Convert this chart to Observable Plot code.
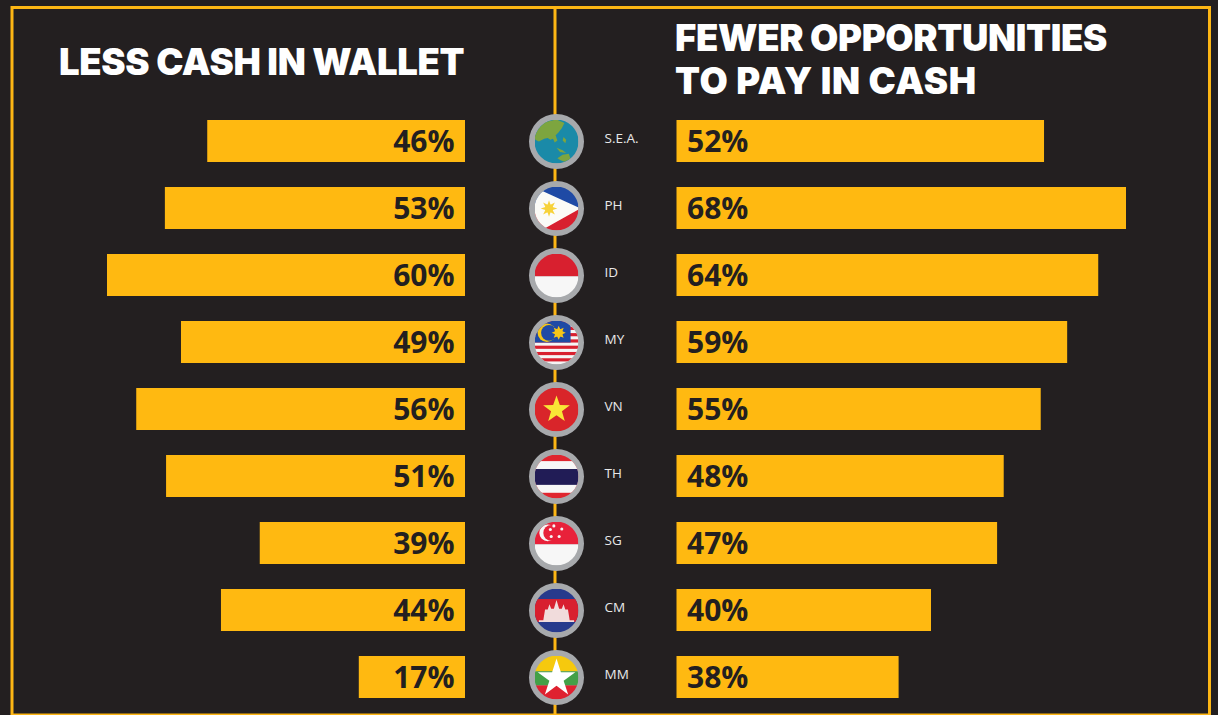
<!DOCTYPE html>
<html>
<head>
<meta charset="utf-8">
<script src="https://cdn.jsdelivr.net/npm/d3@7"></script>
<script src="https://cdn.jsdelivr.net/npm/@observablehq/plot@0.6"></script>
<style>
html,body{margin:0;padding:0;background:#231f20;overflow:hidden}
#chart{position:relative;width:1218px;height:715px;background:#231f20;overflow:hidden}
#chart svg{position:absolute;left:0;top:0}
.title{position:absolute;color:#fff;font-family:Inter,sans-serif;font-weight:900;font-size:36.5px;line-height:43px;white-space:nowrap;letter-spacing:-0.35px}
</style>
</head>
<body>
<div id="chart">
  <div class="title" id="t1" style="left:59px;top:40.5px">LESS CASH IN WALLET</div>
  <div class="title" id="t2" style="left:675px;top:17px">FEWER OPPORTUNITIES<br><span style="letter-spacing:0.6px">TO PAY IN CASH</span></div>
</div>
<script>
const codes = ["S.E.A.", "PH", "ID", "MY", "VN", "TH", "SG", "CM", "MM"];
// Printed percentages
const leftLabels  = [46, 53, 60, 49, 56, 51, 39, 44, 17];
const rightLabels = [52, 68, 64, 59, 55, 48, 47, 40, 38];
// The reference's bars are not proportional to its printed labels,
// so bar lengths are read separately, in percent units.
const leftBars  = [43.2, 50.3, 60, 47.6, 55.1, 50.1, 34.4, 40.9, 17.8];
const rightBars = [55.6, 68, 63.8, 59.1, 55.1, 49.5, 48.5, 38.5, 33.6];

const YELLOW = "#ffb911", DARK = "#231f20", RING = "#a7a9ac", LINE = "#fdb614";

const star = (cx, cy, R, r = R * 0.42, n = 5) => {
  const p = [];
  for (let i = 0; i < 2 * n; i++) {
    const a = -Math.PI / 2 + i * Math.PI / n, q = i % 2 ? r : R;
    p.push((cx + q * Math.cos(a)).toFixed(1) + "," + (cy + q * Math.sin(a)).toFixed(1));
  }
  return p.join(" ");
};
const rect = (y, h, c, x = 0, w = 100) => `<rect x="${x}" y="${y}" width="${w}" height="${h}" fill="${c}"/>`;
const flagArt = {
  "S.E.A.": rect(0,100,"#1a8aa8") +
    `<path fill="#7da53f" d="M0 38 L8 22 L22 6 L50 0 L68 8 L62 20 L54 30 L48 36 L52 48 L46 52 L42 44 L36 46 L30 42 L22 44 L10 50 L2 46Z"/>
     <path fill="#7da53f" d="M50 64 L64 70 L72 76 L58 74Z"/><path fill="#7da53f" d="M52 88 L64 80 L78 78 L82 90 L68 96 L58 92Z"/>
     <path fill="#7da53f" d="M66 40 L72 46 L70 54 L64 48Z"/>`,
  "PH": rect(0,50,"#1f4aa5") + rect(50,50,"#d8202f") +
    `<polygon fill="#fbfbf7" points="0,0 18,10 100,48 100,52 22,96 0,100"/>
     <polygon fill="#f7d23a" points="${star(33,50,19,9,8)}"/><circle cx="33" cy="50" r="9" fill="#f7d23a"/>`,
  "ID": rect(0,52,"#d8202f") + rect(52,48,"#f7f7f7"),
  "MY": rect(0,100,"#f5f5f5") +
    [0,1,2,3,4,5,6].map(i => rect(i * 14.3, 7.2, "#d8202f")).join("") +
    rect(0,50,"#1f4aa5",0,82) +
    `<circle cx="28" cy="28" r="21" fill="#f5c518"/><circle cx="33" cy="28" r="18" fill="#1f4aa5"/>
     <polygon fill="#f5c518" points="${star(55,28,16,9,8)}"/><circle cx="55" cy="28" r="9" fill="#f5c518"/>`,
  "VN": rect(0,100,"#d9252a") + `<polygon fill="#f9e636" points="${star(50,50,32,13)}"/>`,
  "TH": rect(0,100,"#e0252f") + rect(15,72,"#f7f7f7") + rect(33,36,"#211c56"),
  "SG": rect(0,52,"#e8213a") + rect(52,48,"#f7f7f7") +
    `<circle cx="30" cy="26" r="19" fill="#f7f7f7"/><circle cx="38" cy="26" r="18" fill="#e8213a"/>
     <circle cx="44" cy="10" r="3.5" fill="#f7f7f7"/><circle cx="62" cy="17" r="3.5" fill="#f7f7f7"/>
     <circle cx="56" cy="34" r="3.5" fill="#f7f7f7"/><circle cx="38" cy="34" r="3.5" fill="#f7f7f7"/>
     <circle cx="36" cy="18" r="3.5" fill="#f7f7f7"/>`,
  "CM": rect(0,100,"#273a8c") + rect(24,52,"#d8202f") +
    `<polygon fill="#f1dcdc" points="10,72 20,72 24,48 30,48 34,36 38,46 44,46 50,26 56,46 62,46 66,36 70,48 76,48 80,72 90,72 90,76 10,76"/>`,
  "MM": rect(0,36,"#f6c90e") + rect(36,32,"#43a047") + rect(68,32,"#df2130") +
    `<polygon fill="#fff" points="${star(50,52,45,17)}"/>`
};
const flagSrc = c => "data:image/svg+xml," + encodeURIComponent(
  `<svg xmlns="http://www.w3.org/2000/svg" viewBox="0 0 100 100" width="88" height="88">${flagArt[c]}</svg>`);

const rows = codes.map((code, i) => ({
  code,
  leftLabel: leftLabels[i] + "%", rightLabel: rightLabels[i] + "%",
  leftBar: leftBars[i], rightBar: rightBars[i]
}));

const W = 1218, H = 715;
const yScale = {type: "band", domain: codes, range: [95, 723], padding: 0.373, axis: null};
const labelFont = {fontFamily: "'Open Sans', sans-serif", fontWeight: 700, fontSize: 30, fill: DARK};
const base = {width: W, height: H, margin: 0, style: {background: "transparent"}, y: yScale};

// Frame, divider, flags and country codes
const centre = Plot.plot({
  width: W, height: H,
  marginLeft: 11.5, marginTop: 7, marginRight: 9, marginBottom: 0.5,
  style: {background: "transparent"},
  y: yScale,
  x: {type: "point", domain: ["flag", "code"], range: [556, 604.5], padding: 0, axis: null},
  marks: [
    Plot.frame({stroke: LINE, strokeWidth: 3}),
    Plot.ruleX(["flag"], {stroke: LINE, strokeWidth: 3, dx: -1.5}),
    Plot.dot(rows, {x: () => "flag", y: "code", r: 27.5, fill: RING, stroke: "none"}),
    Plot.image(rows, {x: () => "flag", y: "code", r: 22, src: d => flagSrc(d.code)}),
    Plot.text(rows, {x: () => "code", y: "code", text: "code", textAnchor: "start", dy: -3,
      fontFamily: "'Open Sans', sans-serif", fontSize: 13.5, fill: "#e8e8e8"})
  ]
});

// Left bars, growing leftwards from the shared baseline
const left = Plot.plot({
  ...base,
  x: {domain: [0, 60], range: [465, 107], axis: null},
  marks: [
    Plot.barX(rows, {x1: 0, x2: "leftBar", y: "code", fill: YELLOW}),
    Plot.text(rows, {x: () => 0, y: "code", text: "leftLabel", textAnchor: "end", dx: -11, dy: 1, ...labelFont})
  ]
});

// Right bars
const right = Plot.plot({
  ...base,
  x: {domain: [0, 68], range: [676.5, 1126], axis: null},
  marks: [
    Plot.barX(rows, {x1: 0, x2: "rightBar", y: "code", fill: YELLOW}),
    Plot.text(rows, {x: () => 0, y: "code", text: "rightLabel", textAnchor: "start", dx: 10, dy: 1, ...labelFont})
  ]
});

const chart = document.getElementById("chart");
chart.prepend(centre, left, right);
</script>
</body>
</html>
